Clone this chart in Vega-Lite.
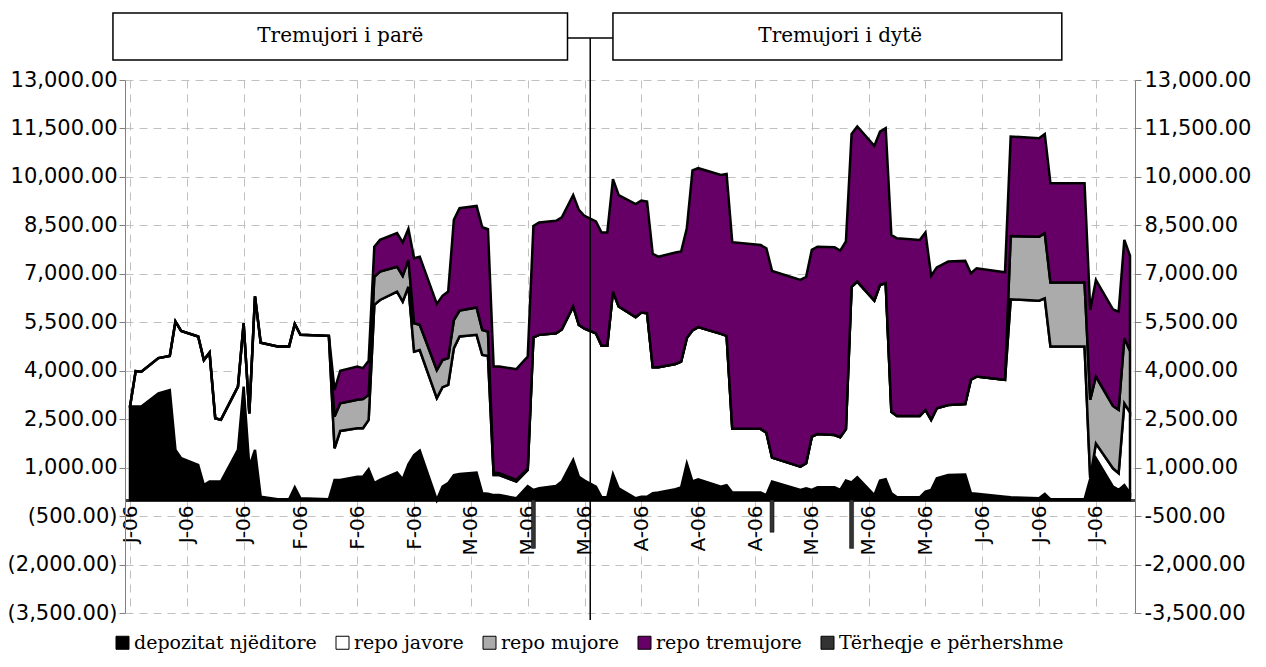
{
  "$schema": "https://vega.github.io/schema/vega-lite/v6.json",
  "width": 1010,
  "height": 533,
  "autosize": {"type": "none"},
  "padding": {"left": 125, "top": 80, "right": 131, "bottom": 54},
  "background": "white",
  "config": {"view": {"stroke": null}, "font": "DejaVu Sans"},
  "datasets": {
    "ops": [
      {"date": "2006-01-03", "depozitat njëditore": 2890, "repo javore": 0, "repo mujore": 0, "repo tremujore": 0},
      {"date": "2006-01-04", "depozitat njëditore": 2890, "repo javore": 1100, "repo mujore": 0, "repo tremujore": 0},
      {"date": "2006-01-05", "depozitat njëditore": 2890, "repo javore": 1080, "repo mujore": 0, "repo tremujore": 0},
      {"date": "2006-01-08", "depozitat njëditore": 3300, "repo javore": 1090, "repo mujore": 0, "repo tremujore": 0},
      {"date": "2006-01-10", "depozitat njëditore": 3400, "repo javore": 1060, "repo mujore": 0, "repo tremujore": 0},
      {"date": "2006-01-11", "depozitat njëditore": 1550, "repo javore": 3970, "repo mujore": 0, "repo tremujore": 0},
      {"date": "2006-01-12", "depozitat njëditore": 1290, "repo javore": 3940, "repo mujore": 0, "repo tremujore": 0},
      {"date": "2006-01-15", "depozitat njëditore": 1080, "repo javore": 3980, "repo mujore": 0, "repo tremujore": 0},
      {"date": "2006-01-16", "depozitat njëditore": 460, "repo javore": 3870, "repo mujore": 0, "repo tremujore": 0},
      {"date": "2006-01-17", "depozitat njëditore": 570, "repo javore": 3990, "repo mujore": 0, "repo tremujore": 0},
      {"date": "2006-01-18", "depozitat njëditore": 570, "repo javore": 1960, "repo mujore": 0, "repo tremujore": 0},
      {"date": "2006-01-19", "depozitat njëditore": 570, "repo javore": 1910, "repo mujore": 0, "repo tremujore": 0},
      {"date": "2006-01-22", "depozitat njëditore": 1550, "repo javore": 1960, "repo mujore": 0, "repo tremujore": 0},
      {"date": "2006-01-23", "depozitat njëditore": 3510, "repo javore": 1960, "repo mujore": 0, "repo tremujore": 0},
      {"date": "2006-01-24", "depozitat njëditore": 1030, "repo javore": 1650, "repo mujore": 0, "repo tremujore": 0},
      {"date": "2006-01-25", "depozitat njëditore": 1550, "repo javore": 4750, "repo mujore": 0, "repo tremujore": 0},
      {"date": "2006-01-26", "depozitat njëditore": 100, "repo javore": 4770, "repo mujore": 0, "repo tremujore": 0},
      {"date": "2006-01-29", "depozitat njëditore": 20, "repo javore": 4730, "repo mujore": 0, "repo tremujore": 0},
      {"date": "2006-01-31", "depozitat njëditore": 20, "repo javore": 4730, "repo mujore": 0, "repo tremujore": 0},
      {"date": "2006-02-01", "depozitat njëditore": 390, "repo javore": 5060, "repo mujore": 0, "repo tremujore": 0},
      {"date": "2006-02-02", "depozitat njëditore": 50, "repo javore": 5060, "repo mujore": 0, "repo tremujore": 0},
      {"date": "2006-02-07", "depozitat njëditore": 20, "repo javore": 5060, "repo mujore": 0, "repo tremujore": 0},
      {"date": "2006-02-08", "depozitat njëditore": 620, "repo javore": 980, "repo mujore": 980, "repo tremujore": 825},
      {"date": "2006-02-09", "depozitat njëditore": 620, "repo javore": 1516, "repo mujore": 854, "repo tremujore": 1010},
      {"date": "2006-02-12", "depozitat njëditore": 720, "repo javore": 1500, "repo mujore": 880, "repo tremujore": 1030},
      {"date": "2006-02-13", "depozitat njëditore": 720, "repo javore": 1500, "repo mujore": 900, "repo tremujore": 960},
      {"date": "2006-02-14", "depozitat njëditore": 950, "repo javore": 1530, "repo mujore": 770, "repo tremujore": 1060},
      {"date": "2006-02-15", "depozitat njëditore": 520, "repo javore": 5520, "repo mujore": 870, "repo tremujore": 930},
      {"date": "2006-02-16", "depozitat njëditore": 620, "repo javore": 5570, "repo mujore": 880, "repo tremujore": 980},
      {"date": "2006-02-19", "depozitat njëditore": 850, "repo javore": 5600, "repo mujore": 770, "repo tremujore": 1040},
      {"date": "2006-02-20", "depozitat njëditore": 640, "repo javore": 5500, "repo mujore": 795, "repo tremujore": 1035},
      {"date": "2006-02-21", "depozitat njëditore": 1100, "repo javore": 5500, "repo mujore": 830, "repo tremujore": 960},
      {"date": "2006-02-22", "depozitat njëditore": 1390, "repo javore": 3200, "repo mujore": 880, "repo tremujore": 2010},
      {"date": "2006-02-23", "depozitat njëditore": 1530, "repo javore": 3110, "repo mujore": 780, "repo tremujore": 2110},
      {"date": "2006-02-26", "depozitat njëditore": 0, "repo javore": 3150, "repo mujore": 870, "repo tremujore": 2050},
      {"date": "2006-02-27", "depozitat njëditore": 410, "repo javore": 3080, "repo mujore": 840, "repo tremujore": 1990},
      {"date": "2006-02-28", "depozitat njëditore": 520, "repo javore": 3040, "repo mujore": 830, "repo tremujore": 2060},
      {"date": "2006-03-01", "depozitat njëditore": 770, "repo javore": 3930, "repo mujore": 870, "repo tremujore": 3100},
      {"date": "2006-03-02", "depozitat njëditore": 800, "repo javore": 4260, "repo mujore": 800, "repo tremujore": 3170},
      {"date": "2006-03-05", "depozitat njëditore": 850, "repo javore": 4260, "repo mujore": 850, "repo tremujore": 3140},
      {"date": "2006-03-06", "depozitat njëditore": 210, "repo javore": 4280, "repo mujore": 770, "repo tremujore": 3180},
      {"date": "2006-03-07", "depozitat njëditore": 190, "repo javore": 4270, "repo mujore": 750, "repo tremujore": 3170},
      {"date": "2006-03-08", "depozitat njëditore": 150, "repo javore": 620, "repo mujore": 80, "repo tremujore": 3280},
      {"date": "2006-03-09", "depozitat njëditore": 150, "repo javore": 620, "repo mujore": 60, "repo tremujore": 3300},
      {"date": "2006-03-12", "depozitat njëditore": 50, "repo javore": 520, "repo mujore": 50, "repo tremujore": 3430},
      {"date": "2006-03-14", "depozitat njëditore": 430, "repo javore": 500, "repo mujore": 40, "repo tremujore": 3470},
      {"date": "2006-03-15", "depozitat njëditore": 310, "repo javore": 4720, "repo mujore": 0, "repo tremujore": 3450},
      {"date": "2006-03-16", "depozitat njëditore": 360, "repo javore": 4750, "repo mujore": 0, "repo tremujore": 3480},
      {"date": "2006-03-19", "depozitat njëditore": 430, "repo javore": 4730, "repo mujore": 0, "repo tremujore": 3480},
      {"date": "2006-03-20", "depozitat njëditore": 570, "repo javore": 4710, "repo mujore": 0, "repo tremujore": 3470},
      {"date": "2006-03-22", "depozitat njëditore": 1240, "repo javore": 4750, "repo mujore": 0, "repo tremujore": 3450},
      {"date": "2006-03-23", "depozitat njëditore": 720, "repo javore": 4700, "repo mujore": 0, "repo tremujore": 3560},
      {"date": "2006-03-24", "depozitat njëditore": 600, "repo javore": 4700, "repo mujore": 0, "repo tremujore": 3490},
      {"date": "2006-03-26", "depozitat njëditore": 410, "repo javore": 4750, "repo mujore": 0, "repo tremujore": 3460},
      {"date": "2006-03-27", "depozitat njëditore": 80, "repo javore": 4690, "repo mujore": 0, "repo tremujore": 3510},
      {"date": "2006-03-28", "depozitat njëditore": 80, "repo javore": 4690, "repo mujore": 0, "repo tremujore": 3510},
      {"date": "2006-03-29", "depozitat njëditore": 800, "repo javore": 5650, "repo mujore": 0, "repo tremujore": 3480},
      {"date": "2006-03-30", "depozitat njëditore": 360, "repo javore": 5630, "repo mujore": 0, "repo tremujore": 3450},
      {"date": "2006-04-02", "depozitat njëditore": 50, "repo javore": 5610, "repo mujore": 0, "repo tremujore": 3500},
      {"date": "2006-04-03", "depozitat njëditore": 100, "repo javore": 5700, "repo mujore": 0, "repo tremujore": 3470},
      {"date": "2006-04-04", "depozitat njëditore": 100, "repo javore": 5680, "repo mujore": 0, "repo tremujore": 3460},
      {"date": "2006-04-05", "depozitat njëditore": 210, "repo javore": 3900, "repo mujore": 0, "repo tremujore": 3510},
      {"date": "2006-04-06", "depozitat njëditore": 230, "repo javore": 3880, "repo mujore": 0, "repo tremujore": 3420},
      {"date": "2006-04-09", "depozitat njëditore": 330, "repo javore": 3880, "repo mujore": 0, "repo tremujore": 3450},
      {"date": "2006-04-10", "depozitat njëditore": 390, "repo javore": 3890, "repo mujore": 0, "repo tremujore": 3410},
      {"date": "2006-04-11", "depozitat njëditore": 1130, "repo javore": 3880, "repo mujore": 0, "repo tremujore": 3400},
      {"date": "2006-04-12", "depozitat njëditore": 570, "repo javore": 4680, "repo mujore": 0, "repo tremujore": 4950},
      {"date": "2006-04-13", "depozitat njëditore": 640, "repo javore": 4710, "repo mujore": 0, "repo tremujore": 4920},
      {"date": "2006-04-17", "depozitat njëditore": 410, "repo javore": 4730, "repo mujore": 0, "repo tremujore": 4920},
      {"date": "2006-04-18", "depozitat njëditore": 460, "repo javore": 4620, "repo mujore": 0, "repo tremujore": 5010},
      {"date": "2006-04-19", "depozitat njëditore": 230, "repo javore": 1970, "repo mujore": 0, "repo tremujore": 5780},
      {"date": "2006-04-24", "depozitat njëditore": 230, "repo javore": 1970, "repo mujore": 0, "repo tremujore": 5690},
      {"date": "2006-04-25", "depozitat njëditore": 150, "repo javore": 1930, "repo mujore": 0, "repo tremujore": 5710},
      {"date": "2006-04-26", "depozitat njëditore": 570, "repo javore": 740, "repo mujore": 0, "repo tremujore": 5780},
      {"date": "2006-05-01", "depozitat njëditore": 310, "repo javore": 720, "repo mujore": 0, "repo tremujore": 5780},
      {"date": "2006-05-02", "depozitat njëditore": 360, "repo javore": 780, "repo mujore": 0, "repo tremujore": 5770},
      {"date": "2006-05-03", "depozitat njëditore": 310, "repo javore": 1650, "repo mujore": 0, "repo tremujore": 5780},
      {"date": "2006-05-04", "depozitat njëditore": 390, "repo javore": 1650, "repo mujore": 0, "repo tremujore": 5800},
      {"date": "2006-05-07", "depozitat njëditore": 390, "repo javore": 1620, "repo mujore": 0, "repo tremujore": 5810},
      {"date": "2006-05-08", "depozitat njëditore": 310, "repo javore": 1630, "repo mujore": 0, "repo tremujore": 5780},
      {"date": "2006-05-09", "depozitat njëditore": 600, "repo javore": 1590, "repo mujore": 0, "repo tremujore": 5810},
      {"date": "2006-05-10", "depozitat njëditore": 540, "repo javore": 6060, "repo mujore": 0, "repo tremujore": 4730},
      {"date": "2006-05-11", "depozitat njëditore": 700, "repo javore": 6060, "repo mujore": 0, "repo tremujore": 4800},
      {"date": "2006-05-14", "depozitat njëditore": 150, "repo javore": 6020, "repo mujore": 0, "repo tremujore": 4790},
      {"date": "2006-05-15", "depozitat njëditore": 600, "repo javore": 6060, "repo mujore": 0, "repo tremujore": 4740},
      {"date": "2006-05-16", "depozitat njëditore": 640, "repo javore": 6070, "repo mujore": 0, "repo tremujore": 4800},
      {"date": "2006-05-17", "depozitat njëditore": 210, "repo javore": 2520, "repo mujore": 0, "repo tremujore": 5470},
      {"date": "2006-05-18", "depozitat njëditore": 80, "repo javore": 2520, "repo mujore": 0, "repo tremujore": 5500},
      {"date": "2006-05-22", "depozitat njëditore": 80, "repo javore": 2520, "repo mujore": 0, "repo tremujore": 5450},
      {"date": "2006-05-23", "depozitat njëditore": 260, "repo javore": 2530, "repo mujore": 0, "repo tremujore": 5490},
      {"date": "2006-05-24", "depozitat njëditore": 310, "repo javore": 2170, "repo mujore": 0, "repo tremujore": 4460},
      {"date": "2006-05-25", "depozitat njëditore": 670, "repo javore": 2170, "repo mujore": 0, "repo tremujore": 4360},
      {"date": "2006-05-27", "depozitat njëditore": 770, "repo javore": 2170, "repo mujore": 0, "repo tremujore": 4440},
      {"date": "2006-05-30", "depozitat njëditore": 790, "repo javore": 2180, "repo mujore": 0, "repo tremujore": 4430},
      {"date": "2006-05-31", "depozitat njëditore": 210, "repo javore": 3510, "repo mujore": 0, "repo tremujore": 3300},
      {"date": "2006-06-01", "depozitat njëditore": 190, "repo javore": 3630, "repo mujore": 0, "repo tremujore": 3350},
      {"date": "2006-06-06", "depozitat njëditore": 100, "repo javore": 3620, "repo mujore": 0, "repo tremujore": 3330},
      {"date": "2006-06-07", "depozitat njëditore": 80, "repo javore": 6130, "repo mujore": 1960, "repo tremujore": 3080},
      {"date": "2006-06-12", "depozitat njëditore": 50, "repo javore": 6120, "repo mujore": 1980, "repo tremujore": 3050},
      {"date": "2006-06-13", "depozitat njëditore": 190, "repo javore": 6050, "repo mujore": 2020, "repo tremujore": 3070},
      {"date": "2006-06-14", "depozitat njëditore": 20, "repo javore": 4730, "repo mujore": 1980, "repo tremujore": 3070},
      {"date": "2006-06-20", "depozitat njëditore": 20, "repo javore": 4730, "repo mujore": 1980, "repo tremujore": 3070},
      {"date": "2006-06-21", "depozitat njëditore": 650, "repo javore": 20, "repo mujore": 2430, "repo tremujore": 2780},
      {"date": "2006-06-22", "depozitat njëditore": 1290, "repo javore": 460, "repo mujore": 2070, "repo tremujore": 2990},
      {"date": "2006-06-25", "depozitat njëditore": 410, "repo javore": 570, "repo mujore": 1930, "repo tremujore": 2990},
      {"date": "2006-06-26", "depozitat njëditore": 310, "repo javore": 520, "repo mujore": 1960, "repo tremujore": 3040},
      {"date": "2006-06-27", "depozitat njëditore": 460, "repo javore": 2530, "repo mujore": 2020, "repo tremujore": 3040},
      {"date": "2006-06-28", "depozitat njëditore": 210, "repo javore": 2500, "repo mujore": 1900, "repo tremujore": 2950}
    ],
    "withdrawals": [
      {"date": "2006-03-15", "series": "Tërheqje e përhershme", "value": -1500},
      {"date": "2006-04-26", "series": "Tërheqje e përhershme", "value": -1000},
      {"date": "2006-05-10", "series": "Tërheqje e përhershme", "value": -1500}
    ],
    "quarters": [
      {"quarter": "Tremujori i parë", "start": "2005-12-31", "end": "2006-03-21", "mid": "2006-02-09"},
      {"quarter": "Tremujori i dytë", "start": "2006-03-29", "end": "2006-06-16", "mid": "2006-05-08"}
    ],
    "divider": [
      {"date": "2006-03-25", "from": "2006-03-21", "to": "2006-03-29"}
    ]
  },
  "layer": [
    {
      "data": {"name": "ops"},
      "transform": [
        {"fold": ["depozitat njëditore", "repo javore", "repo mujore", "repo tremujore"], "as": ["series", "value"]},
        {"stack": "value", "groupby": ["date"], "sort": [{"field": "series", "order": "ascending"}], "as": ["v0", "v1"]}
      ],
      "mark": {"type": "area", "stroke": "black", "strokeWidth": 2.5, "strokeJoin": "miter", "fillOpacity": 1},
      "encoding": {
        "x": {
          "field": "date", "type": "temporal",
          "scale": {"type": "utc", "domain": [1136246400000, 1151452800000]},
          "axis": {
            "title": null,
            "values": [1136246400000, 1137110400000, 1137974400000, 1138838400000, 1139702400000, 1140566400000, 1141430400000, 1142294400000, 1143158400000, 1144022400000, 1144886400000, 1145750400000, 1146614400000, 1147478400000, 1148342400000, 1149206400000, 1150070400000, 1150934400000],
            "labelExpr": "slice(utcFormat(datum.value, '%B'), 0, 1) + '-06'",
            "labelAngle": 270,
            "labelAlign": "right",
            "labelBaseline": "middle",
            "labelFont": "DejaVu Sans",
            "labelFontSize": 20,
            "labelColor": "black",
            "labelFlush": false,
            "labelOverlap": false,
            "labelBound": false,
            "labelPadding": 5,
            "ticks": false,
            "offset": -113,
            "domainColor": "#404040",
            "domainWidth": 3,
            "grid": true,
            "gridColor": "#c0c0c0",
            "gridDash": [8, 6],
            "gridWidth": 1
          }
        },
        "y": {
          "field": "v1", "type": "quantitative",
          "scale": {"domain": [-3500, 13000], "nice": false, "zero": false},
          "axis": {
            "orient": "left",
            "title": null,
            "values": [-3500, -2000, -500, 1000, 2500, 4000, 5500, 7000, 8500, 10000, 11500, 13000],
            "labelExpr": "datum.value < 0 ? '(' + format(-datum.value, ',.2f') + ')' : format(datum.value, ',.2f')",
            "labelFont": "DejaVu Sans",
            "labelFontSize": 21,
            "labelColor": "black",
            "labelFlush": false,
            "labelOverlap": false,
            "labelPadding": 2,
            "tickSize": 6,
            "tickColor": "#808080",
            "domainColor": "#808080",
            "grid": true,
            "gridColor": "#c0c0c0",
            "gridDash": [8, 6],
            "gridWidth": 1
          }
        },
        "y2": {"field": "v0"},
        "color": {
          "field": "series", "type": "nominal",
          "scale": {
            "domain": ["depozitat njëditore", "repo javore", "repo mujore", "repo tremujore", "Tërheqje e përhershme"],
            "range": ["#000000", "#ffffff", "#ababab", "#660066", "#333333"]
          },
          "legend": {
            "title": null,
            "orient": "none",
            "legendX": -12,
            "legendY": 553,
            "direction": "horizontal",
            "columns": 5,
            "symbolType": "square",
            "symbolSize": 169,
            "symbolStrokeColor": "black",
            "symbolStrokeWidth": 1,
            "symbolOffset": 0,
            "labelFont": "DejaVu Serif",
            "labelFontSize": 19,
            "labelColor": "black",
            "labelOffset": 2,
            "columnPadding": 16,
            "labelLimit": 400
          }
        }
      }
    },
    {
      "data": {"name": "withdrawals"},
      "mark": {"type": "bar", "size": 4, "stroke": "black", "strokeWidth": 0.5},
      "encoding": {
        "x": {"field": "date", "type": "temporal", "axis": null},
        "y": {
          "field": "value", "type": "quantitative", "stack": null,
          "axis": {
            "orient": "right",
            "title": null,
            "values": [-3500, -2000, -500, 1000, 2500, 4000, 5500, 7000, 8500, 10000, 11500, 13000],
            "labelExpr": "datum.value < 0 ? '-' + format(-datum.value, ',.2f') : format(datum.value, ',.2f')",
            "labelFont": "DejaVu Sans",
            "labelFontSize": 21,
            "labelColor": "black",
            "labelFlush": false,
            "labelOverlap": false,
            "labelPadding": 3,
            "tickSize": 6,
            "tickColor": "#808080",
            "domainColor": "#808080",
            "grid": false
          }
        },
        "color": {"field": "series", "type": "nominal"}
      }
    },
    {
      "data": {"name": "quarters"},
      "mark": {"type": "rect", "fill": "white", "stroke": "black", "strokeWidth": 1.5},
      "encoding": {
        "x": {"field": "start", "type": "temporal", "axis": null},
        "x2": {"field": "end"},
        "y": {"datum": 15077, "type": "quantitative", "axis": null},
        "y2": {"datum": 13622}
      }
    },
    {
      "data": {"name": "quarters"},
      "mark": {"type": "text", "font": "DejaVu Serif", "fontSize": 20, "align": "center", "baseline": "middle", "color": "black"},
      "encoding": {
        "x": {"field": "mid", "type": "temporal", "axis": null},
        "y": {"datum": 14350, "type": "quantitative", "axis": null},
        "text": {"field": "quarter"}
      }
    },
    {
      "data": {"name": "divider"},
      "mark": {"type": "rule", "color": "black", "strokeWidth": 1.5},
      "encoding": {
        "x": {"field": "from", "type": "temporal", "axis": null},
        "x2": {"field": "to"},
        "y": {"datum": 14304, "type": "quantitative", "axis": null}
      }
    },
    {
      "data": {"name": "divider"},
      "mark": {"type": "rule", "color": "black", "strokeWidth": 1.5},
      "encoding": {
        "x": {"field": "date", "type": "temporal", "axis": null},
        "y": {"datum": 14304, "type": "quantitative", "axis": null},
        "y2": {"datum": -3715}
      }
    }
  ],
  "resolve": {"axis": {"x": "independent", "y": "independent"}}
}
